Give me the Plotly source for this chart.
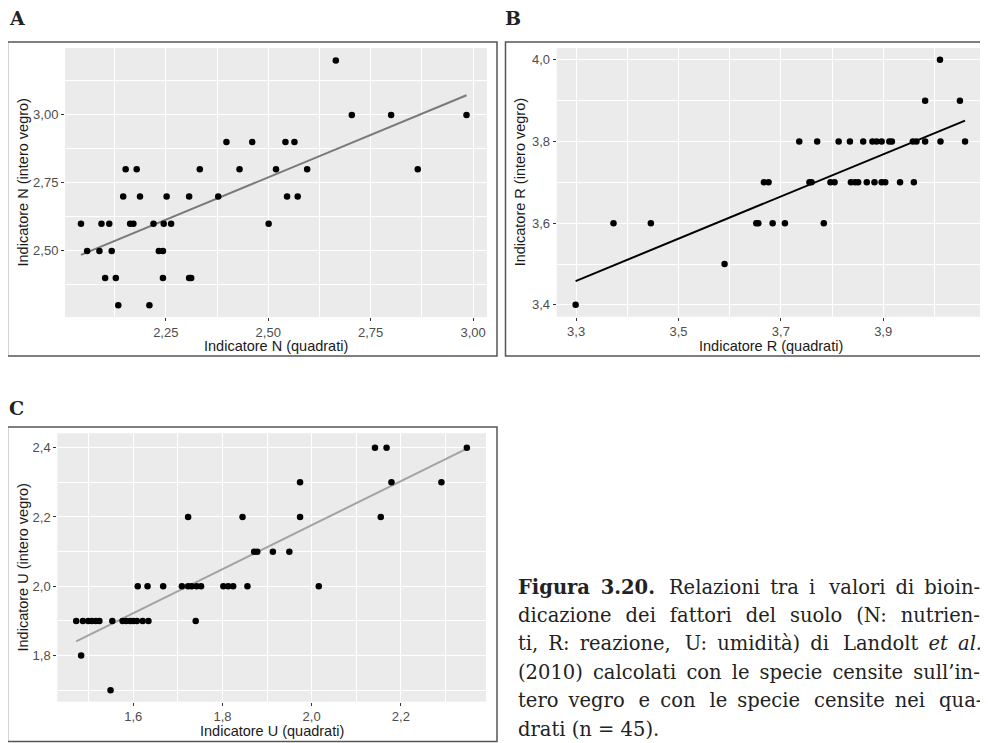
import numpy as np
import plotly.graph_objects as go

# page size and default body margin of the html page
PW, PH = 988, 743
O = 8
W, H = PW - O, PH - O

# ---------------- data ----------------
# Panel A: Indicatore N
a_x = [2.665, 2.704, 2.800, 2.984,
       2.398, 2.461, 2.542, 2.564,
       2.152, 2.179, 2.333, 2.430, 2.519, 2.595, 2.865,
       2.146, 2.187, 2.252, 2.307, 2.378, 2.546, 2.572,
       2.043, 2.093, 2.112, 2.163, 2.171, 2.220, 2.245, 2.263, 2.501,
       2.058, 2.088, 2.118, 2.233, 2.243,
       2.102, 2.128, 2.243, 2.307, 2.312,
       2.134, 2.210]
a_y = ([3.2] + [3.0] * 3 + [2.9] * 4 + [2.8] * 7 + [2.7] * 7 + [2.6] * 9
       + [2.5] * 5 + [2.4] * 5 + [2.3] * 2)
a_xticks = [2.25, 2.50, 2.75, 3.00]
a_yticks = [2.50, 2.75, 3.00]

# Panel B: Indicatore R
b_x = [4.011,
       3.982, 4.050,
       3.736, 3.771, 3.813, 3.835, 3.861, 3.879, 3.887, 3.897, 3.912, 3.917,
       3.958, 3.965, 3.982, 4.012, 4.060,
       3.667, 3.676, 3.756, 3.760, 3.797, 3.805, 3.837, 3.845, 3.851, 3.868,
       3.883, 3.897, 3.904, 3.933, 3.960,
       3.373, 3.446, 3.652, 3.656, 3.684, 3.708, 3.784,
       3.590,
       3.299]
b_y = ([4.0] + [3.9] * 2 + [3.8] * 15 + [3.7] * 15 + [3.6] * 7 + [3.5] + [3.4])
b_xticks = [3.3, 3.5, 3.7, 3.9]
b_yticks = [3.4, 3.6, 3.8, 4.0]

# Panel C: Indicatore U
c_x = [2.142, 2.168, 2.348,
       1.974, 2.179, 2.291,
       1.723, 1.845, 1.974, 2.155,
       1.871, 1.878, 1.913, 1.950,
       1.610, 1.632, 1.667, 1.709, 1.723, 1.731, 1.742, 1.752, 1.802, 1.813,
       1.824, 1.856, 2.016,
       1.472, 1.487, 1.499, 1.507, 1.516, 1.524, 1.553, 1.576, 1.584, 1.593,
       1.600, 1.608, 1.621, 1.634, 1.740,
       1.483,
       1.549]
c_y = ([2.4] * 3 + [2.3] * 3 + [2.2] * 4 + [2.1] * 4 + [2.0] * 13 + [1.9] * 15
       + [1.8] + [1.7])
c_xticks = [1.6, 1.8, 2.0, 2.2]
c_yticks = [1.8, 2.0, 2.2, 2.4]

panel_labels = ["A", "B", "C"]
x_titles = ["Indicatore N (quadrati)", "Indicatore R (quadrati)", "Indicatore U (quadrati)"]
y_titles = ["Indicatore N (intero vegro)", "Indicatore R (intero vegro)", "Indicatore U (intero vegro)"]
caption_lines = [
    "<b>Figura 3.20.</b> Relazioni tra i valori di bioin-",
    "dicazione dei fattori del suolo (N: nutrien-",
    "ti, R: reazione, U: umidità) di Landolt <i>et al.</i>",
    "(2010) calcolati con le specie censite sull\u2019in-",
    "tero vegro e con le specie censite nei qua-",
    "drati (n = 45).",
]
# extra pixels to spread over word gaps to imitate the justified text block
caption_stretch = [37, 45, 39, 25, 45, 0]


# ---------------- helpers (page pixel -> paper coords) ----------------
def pxx(x):
    return (x - O) / W


def pyy(y):
    return 1 - (y - O) / H


def justify(text, extra, unit=3.9):
    if extra <= 0:
        return text
    parts = text.split(" ")
    gaps = len(parts) - 1
    out = parts[0]
    done = 0
    for k in range(1, len(parts)):
        target = int(round(extra * k / gaps / unit))
        n = target - done
        done = target
        out += " " + "\u2009" * n + parts[k]
    return out


fig = go.Figure()

panels = [
    dict(x=a_x, y=a_y, line="#7a7a7a", xt=a_xticks, yt=a_yticks, fmt=".2f",
         mx=0.125, my=0.125,
         box=(65, 487, 48, 317), frame=(7.5, 497, 42, 356),
         xr=[2.004, 3.034], yr=[2.257, 3.246], lab=(8, 18)),
    dict(x=b_x, y=b_y, line="#000000", xt=b_xticks, yt=b_yticks, fmt=".1f",
         mx=0.1, my=0.1,
         box=(556.7, 985, 48, 316.7), frame=(505.5, 987, 42, 356),
         xr=[3.262, 4.099], yr=[3.371, 4.029], lab=(504, 18)),
    dict(x=c_x, y=c_y, line="#a3a3a3", xt=c_xticks, yt=c_yticks, fmt=".1f",
         mx=0.1, my=0.1,
         box=(57.3, 486, 433.3, 701.7), frame=(7.5, 497, 427, 741.5),
         xr=[1.4296, 2.391], yr=[1.667, 2.4415], lab=(8, 408)),
]

tickfont = dict(family="Liberation Sans, Arial, sans-serif", size=13, color="#4d4d4d")
titlefont = dict(family="Liberation Sans, Arial, sans-serif", size=14.5, color="#1a1a1a")

for i, p in enumerate(panels):
    xs = np.array(p["x"])
    ys = np.array(p["y"])
    slope, icpt = np.polyfit(xs, ys, 1)
    lx = np.array([xs.min(), xs.max()])
    sfx = "" if i == 0 else str(i + 1)
    ax = "x" + sfx
    ay = "y" + sfx
    fig.add_trace(go.Scatter(x=lx, y=icpt + slope * lx, mode="lines",
                             line=dict(color=p["line"], width=2),
                             xaxis=ax, yaxis=ay, showlegend=False,
                             hoverinfo="skip"))
    fig.add_trace(go.Scatter(x=xs, y=ys, mode="markers",
                             marker=dict(color="black", size=6.5),
                             xaxis=ax, yaxis=ay, showlegend=False))

    x0, x1, y0, y1 = p["box"]
    common = dict(showgrid=True, gridcolor="white", gridwidth=1.2, zeroline=False,
                  ticks="outside", ticklen=3, tickwidth=1, tickcolor="#333333",
                  tickfont=tickfont, showline=False, fixedrange=True,
                  tickformat=p["fmt"], automargin=False)
    fig.layout["xaxis" + sfx] = dict(
        domain=[pxx(x0), pxx(x1)], range=p["xr"], anchor=ay,
        tickmode="array", tickvals=p["xt"],
        minor=dict(dtick=p["mx"], tick0=p["xt"][0], showgrid=True,
                   gridcolor="white", gridwidth=0.6, ticks=""),
        **common)
    fig.layout["yaxis" + sfx] = dict(
        domain=[pyy(y1), pyy(y0)], range=p["yr"], anchor=ax,
        tickmode="array", tickvals=p["yt"],
        minor=dict(dtick=p["my"], tick0=p["yt"][0], showgrid=True,
                   gridcolor="white", gridwidth=0.6, ticks=""),
        **common)

    fx0, fx1, fy0, fy1 = p["frame"]
    fig.add_shape(type="rect", xref="paper", yref="paper",
                  x0=pxx(fx0), x1=pxx(fx1), y0=pyy(fy1), y1=pyy(fy0),
                  line=dict(color="#555555", width=1.5), fillcolor="rgba(0,0,0,0)",
                  layer="below")

    fig.add_annotation(xref="paper", yref="paper", x=pxx((x0 + x1) / 2), y=pyy(y1 + 29),
                       text=x_titles[i], showarrow=False, font=titlefont,
                       xanchor="center", yanchor="middle", borderpad=0)
    fig.add_annotation(xref="paper", yref="paper", x=pxx(fx0 + 14.5), y=pyy((y0 + y1) / 2),
                       text=y_titles[i], showarrow=False, font=titlefont, textangle=-90,
                       xanchor="center", yanchor="middle")
    lx0, ly0 = p["lab"]
    fig.add_annotation(xref="paper", yref="paper", x=pxx(lx0), y=pyy(ly0),
                       text="<b>" + panel_labels[i] + "</b>", showarrow=False,
                       font=dict(family="DejaVu Serif, serif", size=19, color="#222222"),
                       xanchor="left", yanchor="middle", borderpad=0)

for k, line in enumerate(caption_lines):
    fig.add_annotation(xref="paper", yref="paper", x=pxx(516), y=pyy(587 + k * 28.4),
                       text=justify(line, caption_stretch[k]), showarrow=False,
                       font=dict(family="DejaVu Serif, serif", size=19.5, color="#222222"),
                       xanchor="left", yanchor="middle", align="left")

fig.update_layout(width=W, height=H, margin=dict(l=0, r=0, t=0, b=0),
                  paper_bgcolor="white", plot_bgcolor="#EBEBEB",
                  separators=",.", showlegend=False)

fig.write_html("out.html")
